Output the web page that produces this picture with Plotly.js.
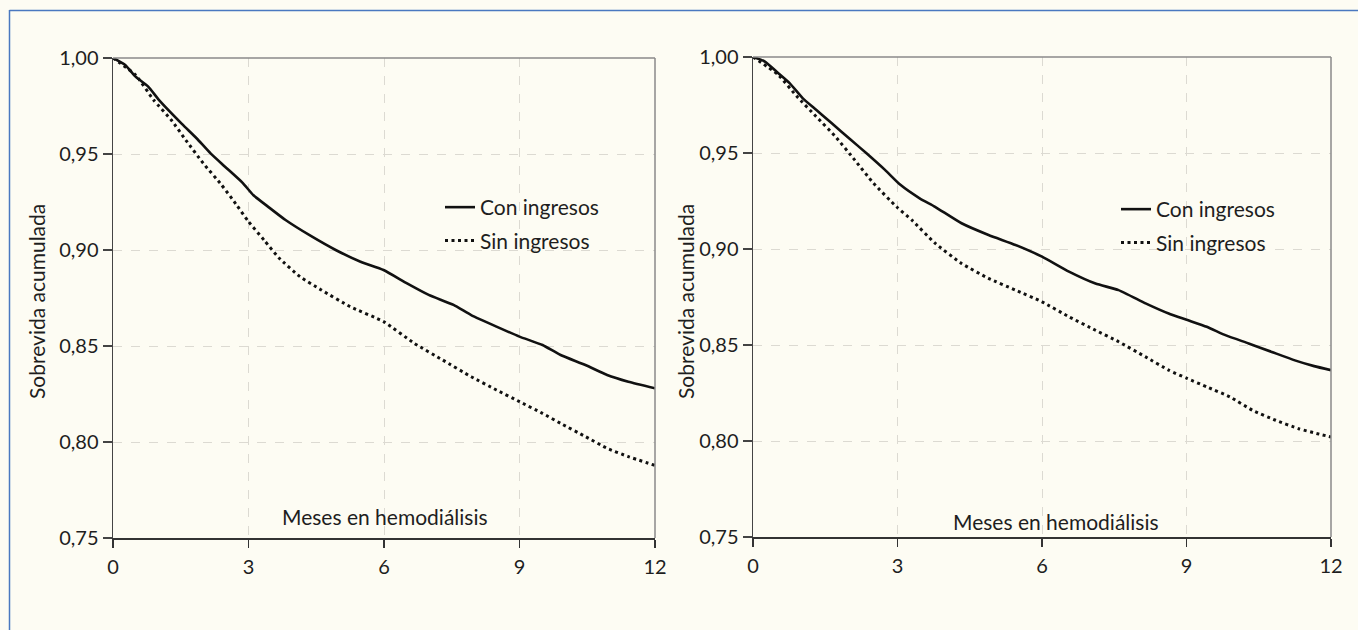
<!DOCTYPE html>
<html>
<head>
<meta charset="utf-8">
<script src="https://cdn.plot.ly/plotly-3.0.1.min.js"></script>
<style>
  html, body { margin: 0; padding: 0; background: #fdfcf3; }
  #chart { width: 1358px; height: 630px; }
</style>
</head>
<body>
<div id="chart"></div>
<script>
// ---- Data ----
const seriesNames = ["Con ingresos", "Sin ingresos"];
const xTickVals = [0, 3, 6, 9, 12];
const xTickText = ["0", "3", "6", "9", "12"];
const yTickVals = [0.75, 0.80, 0.85, 0.90, 0.95, 1.00];
const yTickText = ["0,75", "0,80", "0,85", "0,90", "0,95", "1,00"];
const axisTitleX = "Meses en hemodiálisis";
const axisTitleY = "Sobrevida acumulada";

// Left panel
const leftConMonths = [0, 0.27, 0.50, 0.78, 1.02, 1.53, 1.85, 2.16, 2.48, 2.87, 3.11, 3.43, 3.82, 4.38, 4.93, 5.48, 5.99, 6.51, 6.99, 7.54, 7.93, 8.49, 9.00, 9.51, 9.91, 10.46, 10.94, 11.41, 12.0];
const leftConSurv   = [1.000, 0.9964, 0.9903, 0.9851, 0.9781, 0.9656, 0.9582, 0.9503, 0.9434, 0.9350, 0.9285, 0.9226, 0.9156, 0.9073, 0.9000, 0.8939, 0.8896, 0.8826, 0.8766, 0.8714, 0.8661, 0.8601, 0.8549, 0.8505, 0.8453, 0.8401, 0.8349, 0.8314, 0.8280];
const leftSinMonths = [0, 0.50, 0.90, 1.29, 1.61, 2.00, 2.40, 2.72, 3.00, 3.35, 3.67, 4.14, 4.61, 5.25, 5.99, 6.67, 7.30, 7.93, 8.49, 9.00, 9.51, 9.91, 10.46, 10.94, 11.41, 12.0];
const leftSinSurv   = [1.000, 0.9911, 0.9781, 0.9677, 0.9573, 0.9451, 0.9340, 0.9240, 0.9148, 0.9050, 0.8960, 0.8861, 0.8792, 0.8705, 0.8627, 0.8514, 0.8427, 0.8340, 0.8271, 0.8210, 0.8149, 0.8097, 0.8028, 0.7967, 0.7924, 0.7878];

// Right panel
const rightConMonths = [0, 0.24, 0.52, 0.76, 1.03, 1.31, 1.63, 2.03, 2.35, 2.74, 3.06, 3.46, 3.78, 4.33, 4.89, 5.45, 6.00, 6.56, 7.11, 7.59, 8.15, 8.63, 9.02, 9.42, 9.82, 10.29, 10.77, 11.25, 11.65, 12.0];
const rightConSurv   = [1.000, 0.9977, 0.9917, 0.9864, 0.9786, 0.9725, 0.9656, 0.9569, 0.9500, 0.9412, 0.9334, 0.9264, 0.9220, 0.9134, 0.9073, 0.9021, 0.8960, 0.8882, 0.8820, 0.8786, 0.8717, 0.8664, 0.8630, 0.8595, 0.8550, 0.8508, 0.8464, 0.8420, 0.8390, 0.8369];
const rightSinMonths = [0, 0.52, 0.91, 1.31, 1.71, 2.11, 2.50, 2.98, 3.30, 3.78, 4.33, 4.89, 5.45, 6.00, 6.56, 7.11, 7.59, 8.15, 8.63, 9.02, 9.42, 9.90, 10.37, 10.85, 11.33, 11.72, 12.0];
const rightSinSurv   = [1.000, 0.9908, 0.9795, 0.9690, 0.9586, 0.9464, 0.9343, 0.9220, 0.9150, 0.9030, 0.8925, 0.8847, 0.8786, 0.8725, 0.8647, 0.8577, 0.8517, 0.8438, 0.8369, 0.8325, 0.8282, 0.8230, 0.8160, 0.8108, 0.8064, 0.8038, 0.8021];

// ---- Styling ----
const W = 1358, H = 630;
const FONT = "Lato, 'Open Sans', sans-serif";
const TXT = "#1e1e1e";
const BG = "#fdfcf3";
const px = v => v / W;
const py = v => 1 - v / H;

const solidLine = { color: "#111111", width: 2.6, dash: "solid", shape: "spline", smoothing: 0.5 };
const dotLine = { color: "#111111", width: 3, dash: "3px,3.5px", shape: "spline", smoothing: 0.5 };

const traces = [
  { x: leftConMonths, y: leftConSurv, name: seriesNames[0], xaxis: "x", yaxis: "y", mode: "lines", line: solidLine, legend: "legend", legendgroup: "a" },
  { x: leftSinMonths, y: leftSinSurv, name: seriesNames[1], xaxis: "x", yaxis: "y", mode: "lines", line: dotLine, legend: "legend", legendgroup: "b" },
  { x: rightConMonths, y: rightConSurv, name: seriesNames[0], xaxis: "x2", yaxis: "y2", mode: "lines", line: solidLine, legend: "legend2", legendgroup: "c" },
  { x: rightSinMonths, y: rightSinSurv, name: seriesNames[1], xaxis: "x2", yaxis: "y2", mode: "lines", line: dotLine, legend: "legend2", legendgroup: "d" }
];

function xAxis(domain, anchor) {
  return {
    domain: domain, anchor: anchor, range: [0, 12],
    tickmode: "array", tickvals: xTickVals, ticktext: xTickText,
    showgrid: true, gridcolor: "#dcdad2", griddash: "dash", gridwidth: 1,
    showline: true, linecolor: "#333333", linewidth: 1.5,
    ticks: "outside", ticklen: 8, tickwidth: 1.5, tickcolor: "#333333",
    ticklabelstandoff: 2,
    zeroline: false, fixedrange: true,
    tickfont: { family: FONT, size: 20, color: TXT }
  };
}
function yAxis(domain, anchor) {
  return {
    domain: domain, anchor: anchor, range: [0.75, 1.0],
    tickmode: "array", tickvals: yTickVals, ticktext: yTickText,
    showgrid: true, gridcolor: "#dcdad2", griddash: "dash", gridwidth: 1,
    showline: true, linecolor: "#444444", linewidth: 1.5,
    ticks: "outside", ticklen: 9, tickwidth: 1.5, tickcolor: "#444444",
    zeroline: false, fixedrange: true,
    tickfont: { family: FONT, size: 20, color: TXT }
  };
}

const legendBase = {
  font: { family: FONT, size: 21, color: TXT },
  bgcolor: "rgba(0,0,0,0)", borderwidth: 0,
  xanchor: "left", yanchor: "top",
  tracegroupgap: 3, traceorder: "grouped"
};

const layout = {
  width: W, height: H,
  margin: { l: 0, r: 0, t: 0, b: 0 },
  paper_bgcolor: BG, plot_bgcolor: BG,
  font: { family: FONT, size: 21, color: TXT },
  showlegend: true,
  xaxis: xAxis([px(113), px(655)], "y"),
  yaxis: yAxis([py(538), py(58)], "x"),
  xaxis2: xAxis([px(753), px(1331)], "y2"),
  yaxis2: yAxis([py(537), py(57)], "x2"),
  legend: Object.assign({}, legendBase, { x: px(440), y: py(187) }),
  legend2: Object.assign({}, legendBase, { x: px(1116), y: py(189) }),
  annotations: [
    { text: axisTitleX, xref: "paper", yref: "paper", x: px(385), y: py(516), xanchor: "center", yanchor: "middle", showarrow: false, font: { family: FONT, size: 21, color: TXT } },
    { text: axisTitleX, xref: "paper", yref: "paper", x: px(1056), y: py(521), xanchor: "center", yanchor: "middle", showarrow: false, font: { family: FONT, size: 21, color: TXT } },
    { text: axisTitleY, xref: "paper", yref: "paper", x: px(36), y: py(302), textangle: -90, xanchor: "center", yanchor: "middle", showarrow: false, font: { family: FONT, size: 21, color: TXT } },
    { text: axisTitleY, xref: "paper", yref: "paper", x: px(685), y: py(302), textangle: -90, xanchor: "center", yanchor: "middle", showarrow: false, font: { family: FONT, size: 21, color: TXT } }
  ],
  shapes: [
    // panel frames (top and right edges)
    { type: "line", xref: "x domain", yref: "y domain", x0: 0, x1: 1, y0: 1, y1: 1, line: { color: "#8a8a8a", width: 1.5 } },
    { type: "line", xref: "x domain", yref: "y domain", x0: 1, x1: 1, y0: 0, y1: 1, line: { color: "#8a8a8a", width: 1.5 } },
    { type: "line", xref: "x2 domain", yref: "y2 domain", x0: 0, x1: 1, y0: 1, y1: 1, line: { color: "#8a8a8a", width: 1.5 } },
    { type: "line", xref: "x2 domain", yref: "y2 domain", x0: 1, x1: 1, y0: 0, y1: 1, line: { color: "#8a8a8a", width: 1.5 } },
    // outer blue frame
    { type: "line", xref: "paper", yref: "paper", x0: px(9.5), x1: px(9.5), y0: 0, y1: py(10), line: { color: "#4a78c0", width: 1.5 } },
    { type: "line", xref: "paper", yref: "paper", x0: px(9.5), x1: 1, y0: py(10.5), y1: py(10.5), line: { color: "#4a78c0", width: 1.5 } }
  ]
};

Plotly.newPlot("chart", traces, layout, { displayModeBar: false, staticPlot: true });
</script>
</body>
</html>
